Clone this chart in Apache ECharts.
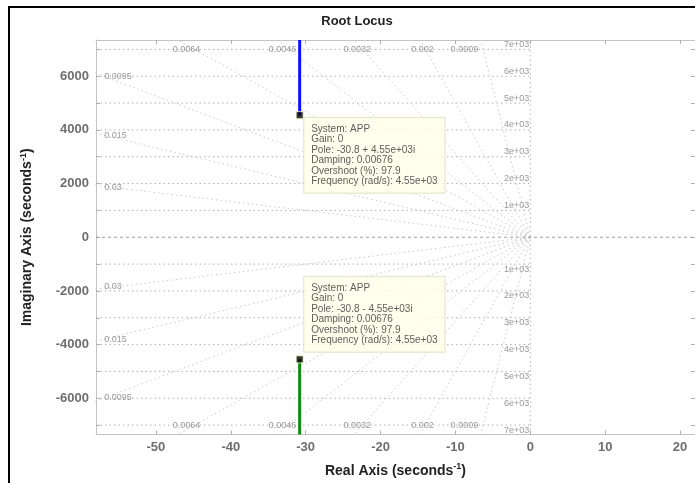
<!DOCTYPE html>
<html>
<head>
<meta charset="utf-8">
<script src="https://cdn.jsdelivr.net/npm/echarts@6/dist/echarts.min.js"></script>
<style>
html,body{margin:0;padding:0;background:#fff;}
#c{width:695px;height:483px;position:absolute;left:0;top:0;}
#frame{position:absolute;left:8px;top:6px;width:700px;height:490px;border-left:2px solid #000;border-top:2px solid #000;pointer-events:none;}
</style>
</head>
<body>
<div id="c"></div>
<div id="frame"></div>
<script>
// ---- data ----
const xRange = [-58, 22];
const yRange = [-7350, 7350];
const xTicks = [-50, -40, -30, -20, -10, 0, 10, 20];
const yLabelTicks = [-6000, -4000, -2000, 0, 2000, 4000, 6000];
const yMinorTicks = [-7000, -6000, -5000, -4000, -3000, -2000, -1000, 0, 1000, 2000, 3000, 4000, 5000, 6000, 7000];
const freqLevels = [1000, 2000, 3000, 4000, 5000, 6000, 7000];
const freqLabels = ['1e+03', '2e+03', '3e+03', '4e+03', '5e+03', '6e+03', '7e+03'];
const dampingValues = [0.0009, 0.002, 0.0032, 0.0046, 0.0064, 0.0095, 0.015, 0.03];
// damping label texts and their anchor points (x, y in data units)
const dampTopText = ['0.0064', '0.0046', '0.0032', '0.002', '0.0009'];
const dampTopX = [-45.9, -33.1, -23.1, -14.4, -8.8];
const dampTopY = 7000;
const dampLeftText = ['0.0095', '0.015', '0.03'];
const dampLeftY = [5980, 3800, 1845];
const dampLeftX = -56.9;
const poleReal = -30.8;
const poleImag = 4550;
const branchUpper = [[-30.8, 4550], [-30.8, 7350]];
const branchLower = [[-30.8, -4550], [-30.8, -7350]];
const infoUpper = ['System: APP', 'Gain: 0', 'Pole: -30.8 + 4.55e+03i', 'Damping: 0.00676', 'Overshoot (%): 97.9', 'Frequency (rad/s): 4.55e+03'];
const infoLower = ['System: APP', 'Gain: 0', 'Pole: -30.8 - 4.55e+03i', 'Damping: 0.00676', 'Overshoot (%): 97.9', 'Frequency (rad/s): 4.55e+03'];

// ---- chart ----
const chart = echarts.init(document.getElementById('c'));
const FONT = 'Liberation Sans, Arial, sans-serif';
const gridDot = {color: '#b0b0b0', width: 1, type: [1.5, 3]};
const radDot = {color: '#c8c8c8', width: 1, type: [1.5, 3]};

const series = [];
// frequency grid (horizontal)
freqLevels.forEach(w => {
  [1, -1].forEach(s => {
    series.push({type: 'line', silent: true, symbol: 'none', animation: false,
      data: [[xRange[0], s * w], [0, s * w]], lineStyle: gridDot, z: 1});
  });
});
// damping grid (radial)
dampingValues.forEach(z => {
  [1, -1].forEach(s => {
    const Y = yRange[1];
    series.push({type: 'line', silent: true, symbol: 'none', animation: false,
      data: [[0, 0], [-Y * z / Math.sqrt(1 - z * z), s * Y]], lineStyle: radDot, z: 1});
  });
});
// imaginary axis dotted
series.push({type: 'line', silent: true, symbol: 'none', animation: false,
  data: [[0, yRange[0]], [0, yRange[1]]], lineStyle: gridDot, z: 1});
// real axis dashed
series.push({type: 'line', silent: true, symbol: 'none', animation: false,
  data: [[xRange[0], 0], [xRange[1], 0]], lineStyle: {color: '#a0a0a0', width: 1, type: [3, 3]}, z: 1});

// frequency labels
const fLabData = [];
freqLevels.forEach((w, i) => {
  fLabData.push({value: [0, w], label: {offset: [-1, -5]}, name: freqLabels[i]});
  fLabData.push({value: [0, -w], label: {offset: [-1, 5]}, name: freqLabels[i]});
});
series.push({type: 'scatter', symbolSize: 0, silent: true, animation: false, data: fLabData, z: 3,
  label: {show: true, position: 'left', distance: 0, formatter: p => p.name, color: '#808080', fontSize: 9, fontFamily: FONT}});
// damping labels
const dLabData = [];
dampTopText.forEach((t, i) => {
  dLabData.push({value: [dampTopX[i], dampTopY], name: t});
  dLabData.push({value: [dampTopX[i], -dampTopY], name: t});
});
series.push({type: 'scatter', symbolSize: 0, silent: true, animation: false, data: dLabData, z: 3,
  label: {show: true, position: 'inside', formatter: p => p.name, color: '#808080', fontSize: 9, fontFamily: FONT}});
const dLeftData = [];
dampLeftText.forEach((t, i) => {
  dLeftData.push({value: [dampLeftX, dampLeftY[i]], name: t});
  dLeftData.push({value: [dampLeftX, -dampLeftY[i]], name: t});
});
series.push({type: 'scatter', symbolSize: 0, silent: true, animation: false, data: dLeftData, z: 3,
  label: {show: true, position: 'right', distance: 0, formatter: p => p.name, color: '#808080', fontSize: 9, fontFamily: FONT}});

// locus branches
series.push({type: 'line', symbol: 'none', animation: false, data: branchUpper, lineStyle: {color: '#1010ff', width: 3}, z: 5});
series.push({type: 'line', symbol: 'none', animation: false, data: branchLower, lineStyle: {color: '#108a10', width: 3}, z: 5});

// poles with data tips
const boxLabel = {
  show: true, fontFamily: FONT, fontSize: 10, lineHeight: 10.5, color: '#333',
  backgroundColor: '#ffffe8', borderColor: '#deddbf', borderWidth: 1, padding: [6, 7, 6, 7], align: 'left'
};
series.push({type: 'scatter', symbol: 'rect', symbolSize: 7, animation: false, z: 6,
  itemStyle: {color: '#000', borderColor: '#f4f2c0', borderWidth: 1},
  data: [
    {value: [poleReal, poleImag], label: Object.assign({}, boxLabel, {position: [8.5, 6.5], verticalAlign: 'top', formatter: infoUpper.join('\n')})},
    {value: [poleReal, -poleImag], label: Object.assign({}, boxLabel, {position: [8.5, -3.5], verticalAlign: 'bottom', formatter: infoLower.join('\n')})}
  ]});

const axisLine = {show: true, onZero: false, lineStyle: {color: '#c4c4c4', width: 1}};
const tickStyle = {lineStyle: {color: '#b0b0b0'}};
const nameRich = {
  n: {fontSize: 14, fontWeight: 'bold', color: '#222', fontFamily: FONT},
  s: {fontSize: 9, fontWeight: 'bold', color: '#222', fontFamily: FONT, verticalAlign: 'top', padding: [0, 0, 8, 0]}
};

chart.setOption({
  animation: false,
  title: {text: 'Root Locus', left: 352, top: 10, textAlign: 'center',
    textStyle: {fontSize: 13, fontWeight: 'bold', color: '#222', fontFamily: FONT}},
  grid: {left: 96, right: 0, top: 40, bottom: 45},
  xAxis: [
    {type: 'value', min: xRange[0], max: xRange[1], position: 'bottom',
      axisLine: axisLine, splitLine: {show: false},
      axisTick: {show: true, inside: true, length: 4, customValues: xTicks, ...tickStyle},
      axisLabel: {customValues: xTicks, margin: 6, color: '#6e6e6e', fontSize: 13, fontWeight: 'bold', fontFamily: FONT, formatter: v => String(v)},
      name: '{n|Real Axis (seconds}{s|-1}{n|)}', nameLocation: 'middle', nameGap: 28,
      nameTextStyle: {rich: nameRich}},
    {type: 'value', min: xRange[0], max: xRange[1], position: 'top',
      axisLine: axisLine, splitLine: {show: false},
      axisTick: {show: true, inside: true, length: 4, customValues: xTicks, ...tickStyle},
      axisLabel: {show: false}}
  ],
  yAxis: [
    {type: 'value', min: yRange[0], max: yRange[1], position: 'left',
      axisLine: axisLine, splitLine: {show: false},
      axisTick: {show: true, inside: true, length: 4, customValues: yMinorTicks, ...tickStyle},
      axisLabel: {customValues: yLabelTicks, margin: 7, color: '#6e6e6e', fontSize: 13, fontWeight: 'bold', fontFamily: FONT, formatter: v => String(v)},
      name: '{n|Imaginary Axis (seconds}{s|-1}{n|)}', nameLocation: 'middle', nameGap: 60,
      nameTextStyle: {rich: nameRich}},
    {type: 'value', min: yRange[0], max: yRange[1], position: 'right',
      axisLine: axisLine, splitLine: {show: false},
      axisTick: {show: true, inside: true, length: 4, customValues: yMinorTicks, ...tickStyle},
      axisLabel: {show: false}}
  ],
  series: series
});
</script>
</body>
</html>
